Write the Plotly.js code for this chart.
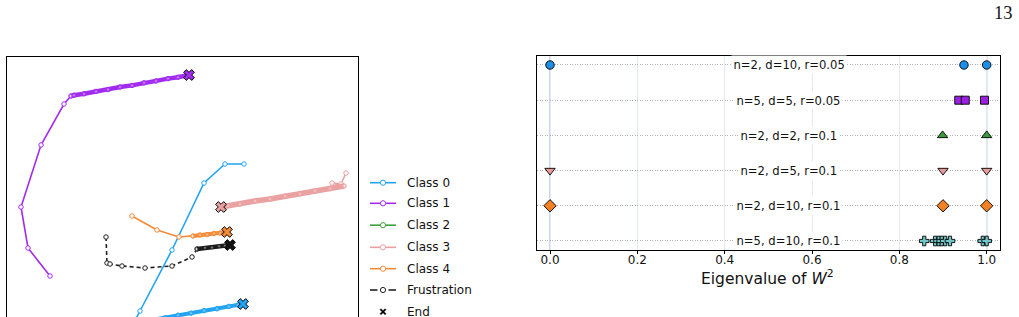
<!DOCTYPE html>
<html>
<head>
<meta charset="utf-8">
<script src="https://cdn.plot.ly/plotly-3.0.1.min.js"></script>
<style>
html,body{margin:0;padding:0;background:#fff;width:1019px;height:317px;overflow:hidden;}
#chart{width:1019px;height:360px;}
</style>
</head>
<body>
<div id="chart"></div>
<script>
// ---------- Left panel: trajectories (arbitrary embedding units) ----------
const class0X = [11.85, 10.9, 9.85, 8.25, 6.65, 6.15, 6.65, 7.25, 7.9, 8.55, 9.2, 9.85, 10.5, 11.1, 11.55, 11.8];
const class0Y = [8.8, 8.8, 7.85, 4.5, 1.45, 0.5, 0.9, 1.01, 1.11, 1.24, 1.34, 1.47, 1.56, 1.68, 1.75, 1.8];
const class1X = [2.15, 1.05, 0.7, 1.7, 2.85, 3.2, 3.35, 3.85, 4.45, 5.05, 5.65, 6.25, 6.85, 7.45, 8.05, 8.55, 8.95, 9.1];
const class1Y = [3.2, 4.6, 6.65, 9.75, 11.8, 12.2, 12.24, 12.31, 12.43, 12.52, 12.65, 12.73, 12.86, 12.95, 13.07, 13.14, 13.22, 13.25];
const class3X = [16.95, 16.7, 16.25, 16.85, 16.15, 15.4, 14.65, 13.9, 13.15, 12.4, 11.65, 11.05, 10.7];
const class3Y = [8.35, 7.8, 7.85, 7.7, 7.57, 7.46, 7.31, 7.2, 7.05, 6.95, 6.8, 6.72, 6.65];
const class4X = [6.25, 7.5, 8.6, 9.3, 9.65, 10.0, 10.35, 10.65, 11.0];
const class4Y = [6.2, 5.5, 5.15, 5.2, 5.25, 5.27, 5.33, 5.35, 5.4];
const frustX = [4.95, 5.0, 5.15, 5.75, 6.9, 8.25, 9.25, 9.5, 9.9, 10.25, 10.6, 10.9, 11.15];
const frustY = [5.15, 3.85, 3.8, 3.7, 3.6, 3.7, 4.15, 4.55, 4.61, 4.63, 4.69, 4.71, 4.75];
// index where each trajectory reaches its converged band
const bandStart = {class0: 6, class1: 5, class3: 3, class4: 3, frust: 7};
const endX = [11.8, 9.1, 10.7, 11.0, 11.15];
const endY = [1.8, 13.25, 6.65, 5.4, 4.75];

const legendLabels = ["Class 0", "Class 1", "Class 2", "Class 3", "Class 4", "Frustration", "End"];

// ---------- Right panel: eigenvalues of W^2 ----------
const rowLabels = ["n=2, d=10, r=0.05", "n=5, d=5, r=0.05", "n=2, d=2, r=0.1", "n=2, d=5, r=0.1", "n=2, d=10, r=0.1", "n=5, d=10, r=0.1"];
const eig0 = [0.0, 0.948, 1.0];
const eig1 = [0.936, 0.951, 0.995];
const eig2 = [0.899, 1.0];
const eig3 = [0.0, 0.9, 1.0];
const eig4 = [0.0, 0.9, 1.0];
const eig5 = [0.857, 0.882, 0.89, 0.897, 0.905, 0.916, 0.991, 1.0];
const eigRows = [eig0, eig1, eig2, eig3, eig4, eig5];
const xTickVals = [0, 0.2, 0.4, 0.6, 0.8, 1.0];
const xTickText = ["0.0", "0.2", "0.4", "0.6", "0.8", "1.0"];

// ---------- styles ----------
const W = 1019, H = 360;
const FONT = "DejaVu Sans";
const classColors = ["#22a4f2", "#a22cee", "#3ca03c", "#eaa1a1", "#f28b3a"];
const endColors = ["#22a4f2", "#a22cee", "#eaa1a1", "#f28b3a", "#111111"];
const rowColors = ["#1e8fe6", "#9b1fe0", "#3a9a3a", "#e89a9a", "#f28024", "#72c6c8"];
const rowSymbols = ["circle", "square", "triangle-up", "triangle-down", "diamond", "cross"];
const rowSizes = [8.5, 8, 9, 9, 9.5, 8];
const px = x => x / W;
const py = y => 1 - y / H;

function traj(x, y, color, dash) {
  return {
    x: x, y: y, xaxis: "x", yaxis: "y", type: "scatter", mode: "lines+markers",
    line: {color: color, width: 1.6, dash: dash || "solid"},
    marker: {symbol: "circle", size: 4.5, color: "#ffffff", line: {color: color, width: 1}},
    hoverinfo: "skip", showlegend: false
  };
}
function band(x, y, start, color, width) {
  return {
    x: x.slice(start), y: y.slice(start), xaxis: "x", yaxis: "y", type: "scatter", mode: "lines+markers",
    line: {color: color, width: width},
    marker: {symbol: "circle", size: 3, color: "rgba(255,255,255,0.4)", line: {color: color, width: 0.6}},
    hoverinfo: "skip", showlegend: false
  };
}

const traces = [
  traj(class0X, class0Y, classColors[0]),
  band(class0X, class0Y, bandStart.class0, classColors[0], 4),
  traj(class1X, class1Y, classColors[1]),
  band(class1X, class1Y, bandStart.class1, classColors[1], 4.5),
  traj(class3X, class3Y, classColors[3]),
  band(class3X, class3Y, bandStart.class3, classColors[3], 5.5),
  traj(class4X, class4Y, classColors[4]),
  band(class4X, class4Y, bandStart.class4, classColors[4], 4),
  traj(frustX.slice(0, bandStart.frust + 1), frustY.slice(0, bandStart.frust + 1), "#222222", "4px,3px"),
  band(frustX, frustY, bandStart.frust, "#1a1a1a", 4.5),
  {
    x: endX, y: endY, xaxis: "x", yaxis: "y", type: "scatter", mode: "markers",
    marker: {symbol: "x", size: 9.5, color: endColors, line: {color: "#000", width: 1}},
    hoverinfo: "skip", showlegend: false
  }
];

eigRows.forEach((vals, i) => {
  traces.push({
    x: vals, y: vals.map(() => i), xaxis: "x2", yaxis: "y2", type: "scatter", mode: "markers",
    marker: {symbol: rowSymbols[i], size: rowSizes[i], color: rowColors[i], line: {color: "#000", width: 0.9}},
    hoverinfo: "skip", showlegend: false
  });
});

const shapes = [];
const annotations = [];

// vertical reference lines at 0 and 1
[0, 1].forEach(v => shapes.push({
  type: "line", xref: "x2", yref: "y2 domain", x0: v, x1: v, y0: 0, y1: 1,
  line: {color: "#b4cfe6", width: 1.5}, layer: "below"
}));

// legend
const legY = [182.7, 203.3, 225.2, 247.3, 268.7, 290, 311.7];
for (let i = 0; i < 5; i++) {
  shapes.push({type: "line", xref: "paper", yref: "paper", x0: px(370), x1: px(396), y0: py(legY[i]), y1: py(legY[i]),
    line: {color: classColors[i], width: 1.6}});
}
shapes.push({type: "line", xref: "paper", yref: "paper", x0: px(370), x1: px(377.5), y0: py(legY[5]), y1: py(legY[5]), line: {color: "#222", width: 1.6}});
shapes.push({type: "line", xref: "paper", yref: "paper", x0: px(388.5), x1: px(396), y0: py(legY[5]), y1: py(legY[5]), line: {color: "#222", width: 1.6}});
for (let i = 0; i < 6; i++) {
  const c = i < 5 ? classColors[i] : "#222";
  shapes.push({type: "circle", xref: "paper", yref: "paper", xsizemode: "pixel", ysizemode: "pixel",
    xanchor: px(383), yanchor: py(legY[i]), x0: -2.6, x1: 2.6, y0: -2.6, y1: 2.6,
    fillcolor: "#fff", line: {color: c, width: 1}});
}
shapes.push({type: "path", xref: "paper", yref: "paper", xsizemode: "pixel", ysizemode: "pixel",
  xanchor: px(383), yanchor: py(legY[6]),
  path: "M-3,-2 L-2,-3 L0,-1 L2,-3 L3,-2 L1,0 L3,2 L2,3 L0,1 L-2,3 L-3,2 L-1,0 Z",
  fillcolor: "#000", line: {color: "#000", width: 0.5}});
legendLabels.forEach((t, i) => annotations.push({
  text: t, xref: "paper", yref: "paper", x: px(405), y: py(legY[i]), xanchor: "left", yanchor: "middle",
  showarrow: false, font: {family: FONT, size: 12, color: "#111"}
}));

// row labels
rowLabels.forEach((t, i) => annotations.push({
  text: t, xref: "x2", yref: "y2", x: 0.547, y: i, xanchor: "center", yanchor: "middle",
  showarrow: false, bgcolor: "#ffffff", borderpad: 1.5, font: {family: FONT, size: 11.6, color: "#111"}
}));

// x axis title of right panel
annotations.push({
  text: "Eigenvalue of <i>W</i><sup>2</sup>", xref: "paper", yref: "paper", x: px(767), y: py(277),
  xanchor: "center", yanchor: "middle", showarrow: false, font: {family: FONT, size: 15.5, color: "#111"}
});

// page number and caption fragment
annotations.push({
  text: "13", xref: "paper", yref: "paper", x: px(1003), y: py(13), xanchor: "center", yanchor: "middle",
  showarrow: false, font: {family: "Liberation Serif", size: 18.5, color: "#111"}
});
annotations.push({
  text: "2", xref: "paper", yref: "paper", x: px(816), y: py(312.5), xanchor: "center", yanchor: "top",
  showarrow: false, font: {family: "Liberation Serif", size: 11, color: "#111"}
});

const layout = {
  width: W, height: H,
  margin: {l: 0, r: 0, t: 0, b: 0},
  paper_bgcolor: "#ffffff", plot_bgcolor: "#ffffff",
  showlegend: false,
  font: {family: FONT, size: 12, color: "#111"},
  xaxis: {domain: [px(7), px(358)], range: [0, 17.55], anchor: "y",
    showline: true, mirror: true, linecolor: "#000", linewidth: 1,
    showticklabels: false, ticks: "", showgrid: false, zeroline: false, fixedrange: true},
  yaxis: {domain: [py(340), py(57)], range: [0, 14.15], anchor: "x",
    showline: true, mirror: true, linecolor: "#000", linewidth: 1,
    showticklabels: false, ticks: "", showgrid: false, zeroline: false, fixedrange: true},
  xaxis2: {domain: [px(537), px(1000)], range: [-0.0298, 1.0305], anchor: "y2",
    tickvals: xTickVals, ticktext: xTickText,
    showline: true, mirror: true, linecolor: "#000", linewidth: 1,
    ticks: "outside", ticklen: 3, tickwidth: 1, tickcolor: "#000", ticklabelstandoff: -4,
    tickfont: {family: FONT, size: 12, color: "#111"},
    showgrid: true, gridcolor: "#e4e9ef", gridwidth: 1, zeroline: false, fixedrange: true},
  yaxis2: {domain: [py(250), py(55.7)], range: [5.256, -0.264], anchor: "x2",
    tickvals: [0, 1, 2, 3, 4, 5], showticklabels: false, ticks: "",
    showline: true, mirror: true, linecolor: "#000", linewidth: 1,
    showgrid: true, gridcolor: "#b2b2b2", gridwidth: 1, griddash: "1px,1.5px",
    zeroline: false, fixedrange: true},
  shapes: shapes,
  annotations: annotations
};

Plotly.newPlot("chart", traces, layout, {displayModeBar: false, staticPlot: true});
</script>
</body>
</html>
